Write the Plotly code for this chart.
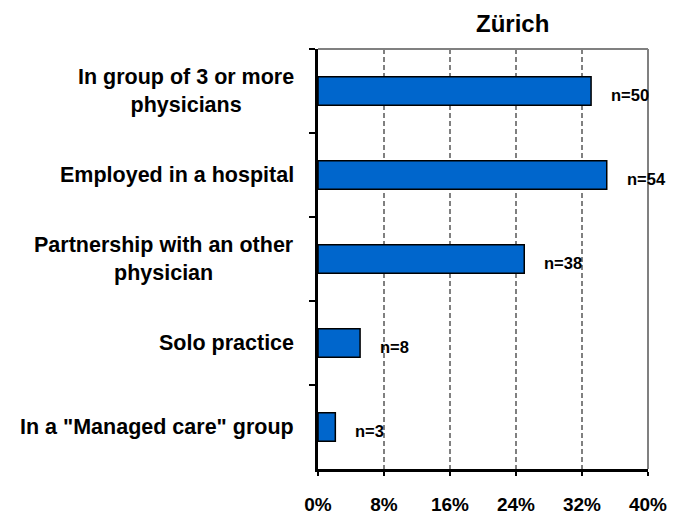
import plotly.graph_objects as go

categories = ['In group of 3 or more<br>physicians', 'Employed in a hospital',
              'Partnership with an other<br>physician', 'Solo practice', 'In a "Managed care" group']
shares = [33.1, 35.0, 25.0, 5.1, 2.1]
counts = [50, 54, 38, 8, 3]
x_ticks = [0, 8, 16, 24, 32, 40]

FONT = "Liberation Sans"
GRID = '#808080'

fig = go.Figure()
fig.add_trace(go.Bar(x=shares, y=categories, orientation='h',
                     marker=dict(color='#0066CC', line=dict(color='black', width=1.5)),
                     width=0.34, hoverinfo='skip'))

# n= labels next to the bars
for cat, val, n in zip(categories, shares, counts):
    fig.add_annotation(x=val, y=cat, text="n=%d" % n, showarrow=False, xanchor='left',
                       xshift=18, yshift=-4, font=dict(family=FONT, size=16.5, color='black', weight='bold'))

# category labels, centred lines like the original
for cat in categories:
    fig.add_annotation(x=0, xref='paper', y=cat, text=cat, showarrow=False, xanchor='right',
                       align='center', xshift=-22, font=dict(family=FONT, size=21.5, color='black', weight='bold'))

fig.add_annotation(x=0.588, xref='paper', y=1, yref='paper', yshift=26, text="Zürich", showarrow=False,
                   yanchor='middle', font=dict(family=FONT, size=24, color='black', weight='bold'))

# grey frame on top and right
fig.add_shape(type='line', xref='paper', yref='paper', x0=0, x1=1, y0=1, y1=1, line=dict(color=GRID, width=2))
fig.add_shape(type='line', xref='paper', yref='paper', x0=1, x1=1, y0=0, y1=1, line=dict(color=GRID, width=2))

# page body has an 8px margin, so the figure is 8px smaller than the window
fig.update_layout(
    width=667, height=506,
    margin=dict(l=310, r=27, t=41, b=45),
    plot_bgcolor='white', paper_bgcolor='white',
    showlegend=False,
    xaxis=dict(range=[0, 40], tickvals=x_ticks, ticktext=["%d%%" % v for v in x_ticks],
               showgrid=True, gridcolor=GRID, gridwidth=1.5, griddash='5px,3px',
               showline=True, linecolor='black', linewidth=2.5,
               ticks='outside', ticklen=4, tickwidth=1.5, tickcolor='black',
               ticklabelstandoff=12, zeroline=False, automargin=False,
               tickfont=dict(family=FONT, size=19, color='black', weight='bold')),
    yaxis=dict(categoryorder='array', categoryarray=categories, autorange='reversed',
               showticklabels=False, tickson='boundaries', ticks='outside', ticklen=6, tickwidth=1.5,
               tickcolor='black', showline=True, linecolor='black', linewidth=2.5, showgrid=False,
               automargin=False),
)

fig.write_html("out.html")
